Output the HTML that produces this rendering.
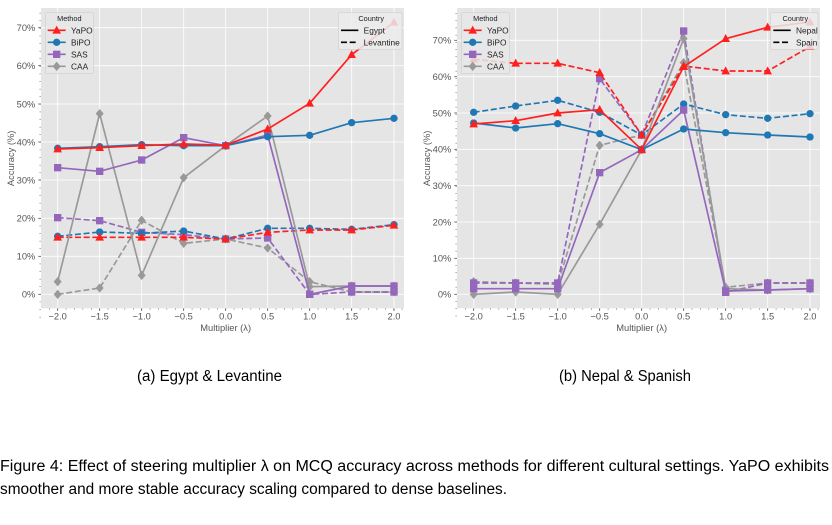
<!DOCTYPE html>
<html><head><meta charset="utf-8"><style>
html,body{margin:0;padding:0;background:#fff;width:832px;height:525px;overflow:hidden}
</style></head><body>
<svg id="root" width="832" height="525" xmlns="http://www.w3.org/2000/svg" font-family="Liberation Sans, DejaVu Sans, sans-serif">
<svg id="pl" x="0" y="0" width="416" height="340" viewBox="0 0 1248 1020"></svg>
<svg id="pr" x="416" y="0" width="416" height="340" viewBox="0 0 1248 1020"></svg>
<text x="137" y="381" font-size="15.5" textLength="145" lengthAdjust="spacingAndGlyphs" fill="#000">(a) Egypt &amp; Levantine</text>
<text x="559" y="381" font-size="15.5" textLength="132" lengthAdjust="spacingAndGlyphs" fill="#000">(b) Nepal &amp; Spanish</text>
<text x="0" y="471" font-size="15.5" textLength="829" lengthAdjust="spacingAndGlyphs" fill="#000">Figure 4: Effect of steering multiplier λ on MCQ accuracy across methods for different cultural settings. YaPO exhibits</text>
<text x="0" y="494" font-size="15.5" textLength="507" lengthAdjust="spacingAndGlyphs" fill="#000">smoother and more stable accuracy scaling compared to dense baselines.</text>
</svg>
<script>
const NS="http://www.w3.org/2000/svg";
const XS=[173,299,425,551,677,803,929,1055,1182];
function el(p,t,a,txt){const e=document.createElementNS(NS,t);for(const k in a)e.setAttribute(k,a[k]);if(txt!==undefined)e.textContent=txt;p.appendChild(e);return e;}
const C={YaPO:"#ff1f1f",BiPO:"#1f77b4",SAS:"#9467bd",CAA:"#999999"};
function marker(g,m,x,y,c){
 if(m==="tri")el(g,"polygon",{points:`${x},${y-14} ${x-13},${y+10} ${x+13},${y+10}`,fill:c});
 else if(m==="o")el(g,"circle",{cx:x,cy:y,r:11,fill:c});
 else if(m==="s")el(g,"rect",{x:x-11,y:y-11,width:22,height:22,fill:c});
 else el(g,"polygon",{points:`${x},${y-14} ${x+12},${y} ${x},${y+14} ${x-12},${y}`,fill:c});
}
function panel(id,yt,series,countries,legW){
 const s=document.getElementById(id);
 el(s,"rect",{x:123,y:24,width:1089,height:901,fill:"#e5e5e5"});
 const labs=["0%","10%","20%","30%","40%","50%","60%","70%"];
 yt.forEach((y,i)=>{el(s,"line",{x1:123,x2:1212,y1:y,y2:y,stroke:"#fff","stroke-width":2.5});
  el(s,"line",{x1:115,x2:123,y1:y,y2:y,stroke:"#555","stroke-width":2.5});
  el(s,"text",{x:106,y:y+10,"font-size":28,"text-anchor":"end",fill:"#555"},labs[i]);});
 const st=(yt[0]-yt[1])/5;
 for(let y=yt[0]+st*3;y>24;y-=st)el(s,"line",{x1:118,x2:123,y1:y,y2:y,stroke:"#666","stroke-width":1.5});
 const xl=["\u22122.0","\u22121.5","\u22121.0","\u22120.5","0.0","0.5","1.0","1.5","2.0"];
 XS.forEach((x,i)=>{el(s,"line",{x1:x,x2:x,y1:24,y2:925,stroke:"#fff","stroke-width":2.5});
  el(s,"line",{x1:x,x2:x,y1:925,y2:933,stroke:"#555","stroke-width":2.5});
  el(s,"text",{x:x,y:958,"font-size":28,"text-anchor":"middle",fill:"#555"},xl[i]);});
 for(let x=173-126/5*1;x<1212;x+=126/5)el(s,"line",{x1:x,x2:x,y1:925,y2:930,stroke:"#666","stroke-width":1.5});
 el(s,"text",{x:677,y:993,"font-size":28,"text-anchor":"middle",fill:"#555"},"Multiplier (\u03bb)");
 el(s,"text",{x:42,y:475,"font-size":28,"text-anchor":"middle",fill:"#555",transform:"rotate(-90 42 475)"},"Accuracy (%)");
 series.forEach(([name,m,dash,ys])=>{const c=C[name];
  el(s,"polyline",{points:ys.map((y,i)=>XS[i]+","+y).join(" "),fill:"none",stroke:c,"stroke-width":5,"stroke-dasharray":dash?"18,8":"none","stroke-linejoin":"round"});
  ys.forEach((y,i)=>marker(s,m,XS[i],y,c));});
 // method legend
 el(s,"rect",{x:137,y:38,width:143,height:183,fill:"#e8e8e8",stroke:"#d0d0d0","stroke-width":2,rx:4,"fill-opacity":0.85});
 el(s,"text",{x:208,y:63,"font-size":22,"text-anchor":"middle",fill:"#222"},"Method");
 [["YaPO","tri"],["BiPO","o"],["SAS","s"],["CAA","d"]].forEach(([n,m],i)=>{const y=91+i*36;
  el(s,"line",{x1:143,x2:197,y1:y,y2:y,stroke:C[n],"stroke-width":5});marker(s,m,170,y,C[n]);
  el(s,"text",{x:213,y:y+9,"font-size":25,fill:"#222"},n);});
 const lx=1212-legW;
 el(s,"rect",{x:lx,y:38,width:legW-6,height:110,fill:"#ececec",stroke:"#d0d0d0","stroke-width":2,rx:4,"fill-opacity":0.85});
 el(s,"text",{x:lx+legW/2,y:63,"font-size":22,"text-anchor":"middle",fill:"#222"},"Country");
 el(s,"line",{x1:lx+8,x2:lx+60,y1:91,y2:91,stroke:"#000","stroke-width":5});
 el(s,"line",{x1:lx+8,x2:lx+60,y1:127,y2:127,stroke:"#000","stroke-width":5,"stroke-dasharray":"18,8"});
 el(s,"text",{x:lx+76,y:100,"font-size":25,fill:"#222"},countries[0]);
 el(s,"text",{x:lx+76,y:136,"font-size":25,fill:"#222"},countries[1]);
}
panel("pl",[883,769,655,540,426,312,197,83],[
 ["CAA","d",1,[883,864,661,730,717,744,845,876,876]],
 ["SAS","s",1,[653,662,697,704,717,714,883,876,876]],
 ["BiPO","o",1,[709,696,700,693,717,685,685,688,674]],
 ["YaPO","tri",1,[712,712,712,712,717,697,690,690,676]],
 ["CAA","d",0,[845,341,826,533,437,348,860,858,858]],
 ["SAS","s",0,[503,514,480,413,437,405,883,858,858]],
 ["BiPO","o",0,[445,440,434,437,437,410,406,368,355]],
 ["YaPO","tri",0,[447,443,437,432,436,387,310,164,67]],
],["Egypt","Levantine"],197);
panel("pr",[883,775,666,557,448,339,230,121],[
 ["CAA","d",1,[845,849,853,436,405,188,862,849,849]],
 ["SAS","s",1,[849,849,849,236,405,93,877,849,849]],
 ["BiPO","o",1,[337,318,301,337,405,312,344,355,341]],
 ["YaPO","tri",1,[178,190,190,218,405,198,213,213,140]],
 ["CAA","d",0,[883,876,883,673,449,116,866,870,866]],
 ["SAS","s",0,[866,866,866,518,449,330,873,870,866]],
 ["BiPO","o",0,[369,384,371,401,449,387,398,405,411]],
 ["YaPO","tri",0,[372,362,339,329,449,200,116,82,66]],
],["Nepal","Spain"],148);
</script>
</body></html>
